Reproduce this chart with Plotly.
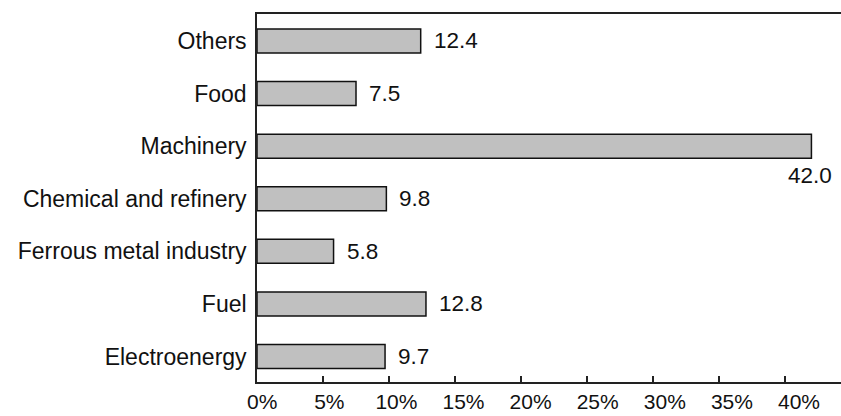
import plotly.graph_objects as go

# Share of industrial output by sector, %
sectors = ["Electroenergy", "Fuel", "Ferrous metal industry", "Chemical and refinery",
           "Machinery", "Food", "Others"]
shares = [9.7, 12.8, 5.8, 9.8, 42.0, 7.5, 12.4]
tick_values = [0, 5, 10, 15, 20, 25, 30, 35, 40]
tick_labels = [f"{v}%" for v in tick_values]

FONT = "Liberation Sans, Arial, sans-serif"
SIZE = 22.5
INK = "#111111"
fig = go.Figure()
fig.add_trace(go.Bar(
    x=shares, y=sectors, orientation="h",
    marker=dict(color="#c0c0c0", line=dict(color=INK, width=1.5)),
    hoverinfo="skip",
))
# empty trace so the percent label axis gets its own subplot
fig.add_trace(go.Scatter(x=[], y=[], xaxis="x2", yaxis="y", hoverinfo="skip"))

# value labels: beside each bar, or under the bar when it reaches the right edge
for s, v in zip(sectors, shares):
    if v > 40:
        fig.add_annotation(x=v, y=s, xref="x", yref="y", text=f"{v:.1f}",
                           showarrow=False, xanchor="center", yanchor="middle",
                           xshift=-1, yshift=-29,
                           font=dict(family=FONT, size=SIZE, color=INK))
    else:
        fig.add_annotation(x=v, y=s, xref="x", yref="y", text=f"{v:.1f}",
                           showarrow=False, xanchor="left", yanchor="middle",
                           xshift=11,
                           font=dict(family=FONT, size=SIZE, color=INK))

fig.update_layout(
    width=841, height=416,
    margin=dict(l=257, r=0, t=14, b=34),
    paper_bgcolor="white", plot_bgcolor="white",
    showlegend=False, bargap=0.544,
    font=dict(family=FONT, size=SIZE, color=INK),
    xaxis=dict(range=[0, 44.24], showgrid=False, zeroline=False,
               showline=True, linecolor="#222222", linewidth=1.6, mirror=True,
               tickvals=tick_values, ticks="inside", ticklen=6, tickwidth=1.5,
               tickcolor="#222222", showticklabels=False, fixedrange=True,
               automargin=False),
    xaxis2=dict(overlaying="x", anchor="y", side="bottom",
                range=[-0.39, 43.13], showgrid=False, zeroline=False,
                showline=False, ticks="", tickmode="array",
                tickvals=tick_values, ticktext=tick_labels,
                ticklabelstandoff=5, automargin=False,
                tickfont=dict(family=FONT, size=21, color=INK)),
    yaxis=dict(range=[-0.485, 6.513], showgrid=False, zeroline=False,
               showline=True, linecolor="#222222", linewidth=1.6,
               ticks="", ticklabelstandoff=4, automargin=False,
               tickfont=dict(family=FONT, size=23, color=INK)),
)

fig.write_html("out.html")
